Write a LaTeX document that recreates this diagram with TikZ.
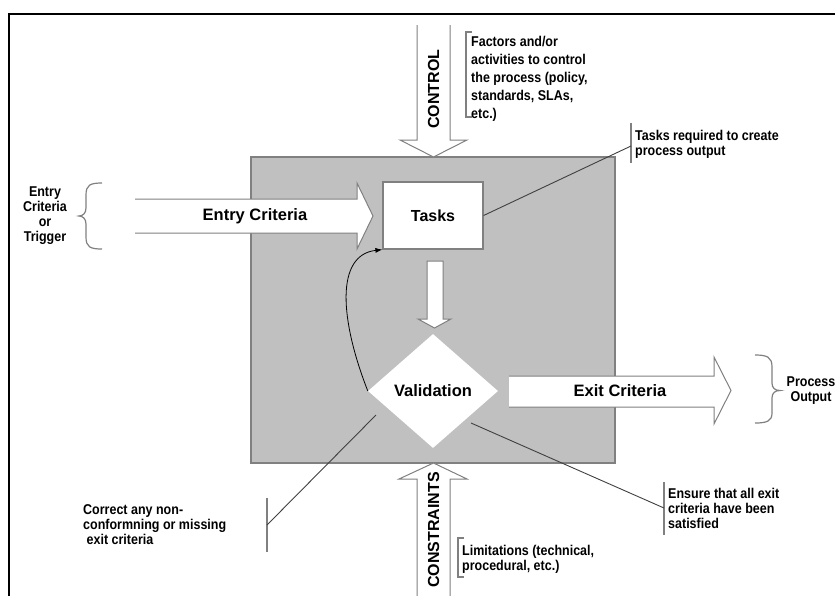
\documentclass[tikz,border=0pt]{standalone}
\usepackage{fontspec}
\setmainfont{Liberation Sans}
\newfontfamily\notefont{Liberation Sans Bold}[FakeStretch=0.88]
\usetikzlibrary{shapes.geometric,arrows.meta}
\definecolor{boxgray}{HTML}{C0C0C0}
\definecolor{edgegray}{HTML}{808080}
\definecolor{leadgray}{HTML}{404040}
\tikzset{
  bigarrow/.style={fill=white, draw=edgegray, line width=1pt, line join=miter},
  biglabel/.style={font=\bfseries\fontsize{16.5}{18}\selectfont, inner sep=0},
  note/.style={font=\notefont\fontsize{14.2}{15}\selectfont, align=left, inner sep=0, anchor=west},
  leader/.style={draw=leadgray, line width=0.9pt},
  bracket/.style={draw=edgegray, line width=1.2pt},
}
\begin{document}
\begin{tikzpicture}[x=1pt,y=-1pt]
\useasboundingbox (0,0) rectangle (835,595);

% outer frame
\draw[line width=2pt] (9,610) -- (9,14) -- (850,14);

% process region
\node[fill=boxgray, draw=edgegray, line width=1.5pt, minimum width=364pt,
      minimum height=306pt, inner sep=0] (proc) at (433,310) {};

% control arrow (open tail)
\draw[bigarrow] (417,25) -- (417,140) -- (400,140) -- (433.5,157) -- (467,140) -- (450,140) -- (450,25);
% constraints arrow (open tail)
\draw[bigarrow] (417,610) -- (417,479) -- (399,479) -- (433.5,463) -- (467,479) -- (450,479) -- (450,610);
% entry criteria arrow
\draw[bigarrow] (135,199) -- (357,199) -- (357,183) -- (373,216) -- (357,249) -- (357,233) -- (135,233);
% exit criteria arrow
\draw[bigarrow] (509,376) -- (714,376) -- (714,357) -- (731,390.5) -- (714,424) -- (714,407) -- (509,407);
% tasks to validation arrow
\draw[bigarrow] (427,261) -- (443,261) -- (443,319) -- (451,319) -- (434.5,328) -- (418,319) -- (427,319) -- cycle;

% arrow labels
\node[biglabel] (entrylbl) at (255,216) {Entry Criteria};
\node[biglabel] (exitlbl) at (620,391) {Exit Criteria};
\node[biglabel, font=\bfseries\fontsize{16}{18}\selectfont, rotate=90] (ctrllbl) at (433.5,89) {CONTROL};
\node[biglabel, font=\bfseries\fontsize{16}{18}\selectfont, rotate=90] (conslbl) at (433.5,530) {CONSTRAINTS};

% tasks and validation
\node[draw=edgegray, fill=white, line width=1.2pt, minimum width=100pt, minimum height=67pt,
      inner sep=0, font=\bfseries\fontsize{16}{18}\selectfont] (tasks) at (433,215.5) {Tasks};
\node[diamond, fill=white, minimum width=130pt, minimum height=114pt, inner sep=0,
      font=\bfseries\fontsize{16.5}{18}\selectfont] (val) at (433,391) {Validation};

% rework loop
\draw[line width=0.8pt, -{Latex[length=7pt,width=5pt]}] (val.west)
  .. controls (340,320) and (335,255) .. (tasks.south west);

% braces
\draw[bracket] (102,183) .. controls (90,183) and (86,185) .. (86,195) -- (86,208)
  .. controls (86,213) and (83,216) .. (79,216) .. controls (83,216) and (86,219) .. (86,224)
  -- (86,237) .. controls (86,247) and (90,249) .. (102,249);
\draw[bracket] (755,355) .. controls (767,355) and (772,357) .. (772,367) -- (772,383)
  .. controls (772,388) and (775,390.5) .. (780,390.5) .. controls (775,390.5) and (772,393) .. (772,398)
  -- (772,413) .. controls (772,421) and (767,423) .. (755,423);

% callout brackets
\draw[bracket] (472,32) -- (466,32) -- (466,117) -- (472,117);
\draw[bracket] (631,123) -- (631,163);
\draw[bracket] (464,538) -- (458,538) -- (458,577) -- (464,577);
\draw[bracket] (664,482) -- (664,535);
\draw[bracket] (267,498) -- (267,552);

% callout leaders
\coordinate (tasksnote) at (631,146);
\coordinate (ensurefrom) at (471,423);
\coordinate (ensurenote) at (664,508);
\coordinate (correctfrom) at (376,415);
\coordinate (correctnote) at (267,525);
\draw[leader] (tasks.east) -- (tasksnote);
\draw[leader] (ensurefrom) -- (ensurenote);
\draw[leader] (correctfrom) -- (correctnote);

% notes
\node[note, font=\notefont\fontsize{14.2}{18}\selectfont] (ctrlnote) at (471,79)
  {Factors and/or\\activities to control\\the process (policy,\\standards, SLAs,\\etc.)};
\node[note] (tasksnotetext) at (635,144.5) {Tasks required to create\\process output};
\node[note, align=center, anchor=center] (entrynote) at (45,216) {Entry\\Criteria\\or\\Trigger};
\node[note, align=center, anchor=center] (outnote) at (811,391) {Process\\Output};
\node[note] (correcttext) at (83,525) {Correct any non-\\conformning or missing\\\ exit criteria};
\node[note] (ensuretext) at (668,508.5) {Ensure that all exit\\criteria have been\\satisfied};
\node[note] (limittext) at (462,559) {Limitations (technical,\\procedural, etc.)};
\end{tikzpicture}
\end{document}
